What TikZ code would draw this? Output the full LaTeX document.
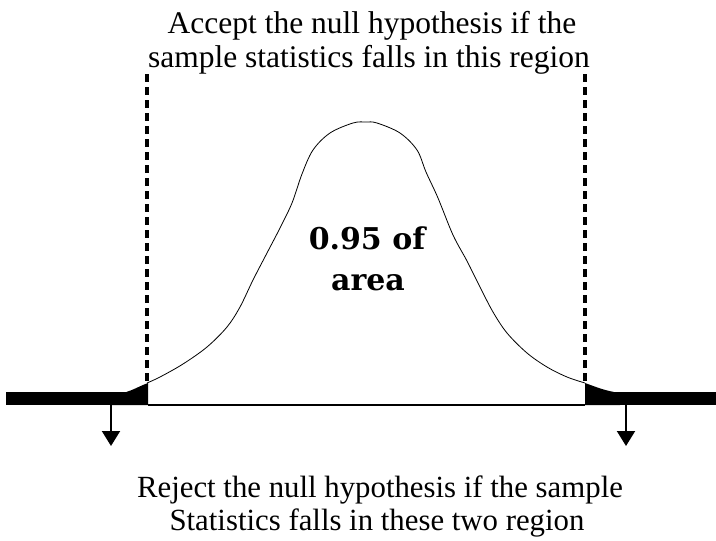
\documentclass[tikz,border=0pt]{standalone}
\usepackage{fontspec}
\setmainfont{Liberation Serif}
\newfontfamily\areafont{DejaVu Serif}
\usetikzlibrary{arrows.meta}
\tikzset{
  lbl/.style={font=\fontsize{31.5}{34}\selectfont, inner sep=0pt, anchor=base},
  rlbl/.style={font=\fontsize{30.8}{34}\selectfont, inner sep=0pt, anchor=base},
  arealbl/.style={font=\fontsize{30}{40}\areafont\bfseries, inner sep=0pt, anchor=base},
  bound/.style={line width=3.2pt, dash pattern=on 8pt off 5pt},
  rejarrow/.style={line width=2pt, -{Triangle[width=18pt,length=15pt]}},
  curve/.style={line width=0.8pt},
}
\begin{document}
\begin{tikzpicture}[x=1pt,y=-1pt]
\useasboundingbox (0,0) rectangle (716,541);
% thick rejection bars
\fill (6,392) rectangle (148,405);
\fill (585,392) rectangle (716,405);
% tail fills
\fill (112,393) to[out=-8,in=-160] (148,383) -- (148,405) -- (112,405) -- cycle;
\fill (585,383) to[out=-20,in=172] (620,393) -- (620,405) -- (585,405) -- cycle;
% baseline
\draw[line width=1.3pt] (148,405) -- (585,405);
% bell curve
\draw[curve] plot[smooth, tension=0.55] coordinates {
 (147,383) (160,377) (183,364) (207,347) (227,327) (240,307) (253,280)
 (267,253) (280,228) (292,203) (302,174) (313,150) (330,133) (353,123)
 (366,122) (377,123) (400,133) (417,150) (426,172) (438,198) (453,235)
 (467,261) (480,287) (493,312) (507,333) (527,353) (547,367) (567,377) (585,383)};
% boundaries
\coordinate (lt) at (147,74);
\coordinate (lb) at (147,384);
\coordinate (rt) at (585,74);
\coordinate (rb) at (585,384);
\draw[bound] (lt) -- (lb);
\draw[bound] (rt) -- (rb);
% arrows
\coordinate (la) at (111,405);
\coordinate (lae) at (111,446);
\coordinate (ra) at (626,405);
\coordinate (rae) at (626,446);
\draw[rejarrow] (la) -- (lae);
\draw[rejarrow] (ra) -- (rae);
% texts
\node[lbl] (accept1) at (372,33) {Accept the null hypothesis if the};
\node[lbl] (accept2) at (369,67) {sample statistics falls in this region};
\node[arealbl] (area1) at (367,249) {0.95 of};
\node[arealbl] (area2) at (368,290) {area};
\node[rlbl] (reject1) at (380,497) {Reject the null hypothesis if the sample};
\node[rlbl] (reject2) at (377,530) {Statistics falls in these two region};
\end{tikzpicture}
\end{document}
